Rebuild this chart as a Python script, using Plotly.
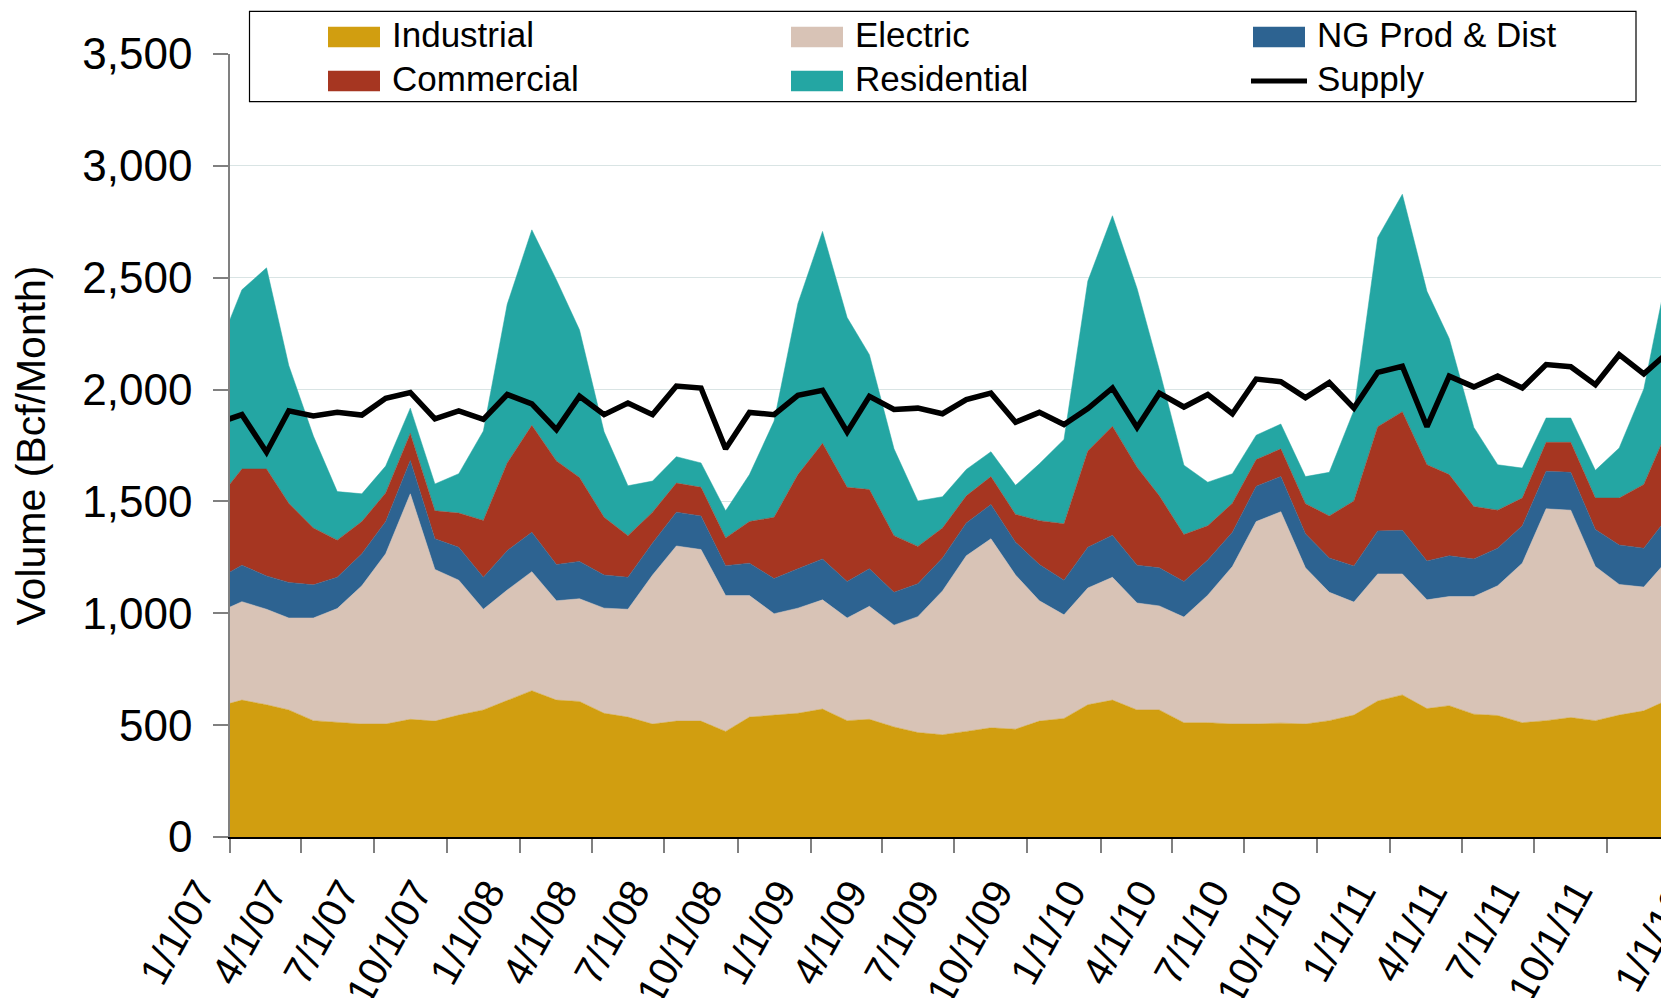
import datetime as dt
import pandas as pd
import plotly.graph_objects as go

# ---------------- data (Bcf / month), Dec-2006 .. Dec-2011, values at mid-month ----------------
months = pd.date_range("2006-12-01", "2011-12-01", freq="MS") + pd.Timedelta(days=15)

industrial = [582,
              612, 591, 568, 520, 511, 505, 505, 526, 518, 545, 568, 610,
              654, 612, 606, 553, 536, 505, 518, 518, 472, 536, 545, 553,
              572, 520, 526, 492, 467, 457, 472, 488, 482, 518, 530, 591,
              612, 568, 568, 511, 511, 505, 505, 509, 505, 520, 545, 608,
              635, 574, 587, 549, 543, 511, 520, 534, 520, 545, 564, 612]
electric = [420,
            440, 427, 411, 459, 510, 618, 761, 1008, 678, 603, 450, 494,
            532, 444, 459, 470, 482, 666, 783, 767, 607, 543, 453, 470,
            488, 459, 505, 455, 518, 643, 785, 845, 689, 538, 463, 522,
            549, 478, 465, 472, 570, 704, 905, 945, 698, 574, 505, 568,
            541, 486, 488, 526, 580, 713, 947, 927, 689, 584, 553, 626]
ng_prod_dist = [151,
                163, 149, 159, 148, 140, 143, 144, 149, 137, 147, 143, 176,
                176, 162, 167, 148, 143, 143, 151, 150, 134, 145, 157, 176,
                183, 163, 168, 147, 147, 147, 147, 153, 147, 162, 155, 182,
                188, 169, 170, 159, 157, 153, 158, 157, 153, 153, 161, 192,
                195, 174, 182, 168, 168, 167, 168, 169, 166, 176, 174, 191]
commercial = [354,
              430, 478, 354, 254, 166, 144, 128, 121, 125, 153, 254, 392,
              478, 463, 375, 258, 186, 138, 130, 128, 124, 186, 274, 421,
              517, 421, 354, 253, 167, 134, 121, 125, 124, 196, 252, 430,
              487, 438, 322, 210, 153, 130, 119, 124, 134, 188, 291, 466,
              530, 430, 363, 234, 170, 124, 129, 134, 140, 210, 285, 392]
residential = [665,
               801, 899, 616, 411, 217, 124, 120, 113, 120, 176, 400, 709,
               874, 809, 660, 382, 223, 139, 118, 109, 121, 210, 430, 765,
               947, 759, 603, 388, 203, 140, 118, 111, 130, 254, 377, 760,
               941, 799, 564, 310, 195, 132, 109, 111, 121, 195, 405, 846,
               972, 775, 608, 354, 203, 134, 109, 109, 124, 224, 427, 708]
supply = [1850,
          1888, 1720, 1905, 1882, 1898, 1886, 1961, 1987, 1869, 1905, 1867, 1978,
          1936, 1821, 1970, 1888, 1940, 1888, 2016, 2007, 1735, 1898, 1888, 1974,
          1997, 1811, 1970, 1911, 1917, 1892, 1955, 1984, 1854, 1898, 1844, 1915,
          2007, 1831, 1984, 1922, 1978, 1892, 2047, 2035, 1964, 2031, 1917, 2077,
          2104, 1834, 2060, 2012, 2060, 2007, 2112, 2102, 2022, 2156, 2070, 2165]

tick_labels = ["1/1/07", "4/1/07", "7/1/07", "10/1/07",
               "1/1/08", "4/1/08", "7/1/08", "10/1/08",
               "1/1/09", "4/1/09", "7/1/09", "10/1/09",
               "1/1/10", "4/1/10", "7/1/10", "10/1/10",
               "1/1/11", "4/1/11", "7/1/11", "10/1/11",
               "1/1/12"]

series_names = ["Industrial", "Electric", "NG Prod & Dist", "Commercial", "Residential"]
series_values = [industrial, electric, ng_prod_dist, commercial, residential]
series_colors = ["#D19E10", "#D8C3B6", "#2D6391", "#A63621", "#24A6A3"]

# ---------------- layout geometry (page body has an 8px margin) ----------------
OX, OY = 8, 8
W, H = 1661, 990
ML, MR, MT = 222, 0, 46.3
MB = H - 829.3
PW, PH = W - ML - MR, H - MT - MB
FONT = "Arial, Liberation Sans, sans-serif"
TICK_ANGLE = -61
TICK_FONT = 40

x_start = pd.Timestamp("2007-01-01")
x_end = pd.Timestamp("2011-12-17 17:00")

def px_x(px):  # reference-page pixel -> paper x
    return (px - OX - ML) / PW

def px_y(py):  # reference-page pixel -> paper y
    return (H - MB - (py - OY)) / PH

tick_dates = [dt.datetime.strptime(t, "%m/%d/%y") for t in tick_labels]
in_range = [(d, t) for d, t in zip(tick_dates, tick_labels) if pd.Timestamp(d) <= x_end]
out_range = [(d, t) for d, t in zip(tick_dates, tick_labels) if pd.Timestamp(d) > x_end]

fig = go.Figure()
for name, vals, color in zip(series_names, series_values, series_colors):
    fig.add_trace(go.Scatter(
        x=months, y=vals, name=name, mode="lines", stackgroup="use",
        line=dict(width=0.5, color=color), fillcolor=color, showlegend=False,
    ))
fig.add_trace(go.Scatter(
    x=months, y=supply, name="Supply", mode="lines",
    line=dict(color="black", width=5.5), showlegend=False,
))

# ---------------- legend (boxed key) ----------------
shapes = [dict(type="rect", xref="paper", yref="paper",
               x0=px_x(249.5), x1=px_x(1636), y0=px_y(102), y1=px_y(11.7),
               fillcolor="white", line=dict(color="black", width=1.2), layer="above")]
annotations = []
col_x = [328, 791, 1253]
row_y = [(27, 47.5), (71, 91.5)]
legend_items = [("Industrial", series_colors[0], 0, 0), ("Electric", series_colors[1], 1, 0),
                ("NG Prod & Dist", series_colors[2], 2, 0), ("Commercial", series_colors[3], 0, 1),
                ("Residential", series_colors[4], 1, 1), ("Supply", "black", 2, 1)]
for name, color, c, r in legend_items:
    x0 = col_x[c]
    y0, y1 = row_y[r]
    if name == "Supply":
        shapes.append(dict(type="line", xref="paper", yref="paper",
                           x0=px_x(x0 - 2), x1=px_x(x0 + 54), y0=px_y((y0 + y1) / 2), y1=px_y((y0 + y1) / 2),
                           line=dict(color="black", width=5), layer="above"))
    else:
        shapes.append(dict(type="rect", xref="paper", yref="paper",
                           x0=px_x(x0), x1=px_x(x0 + 52), y0=px_y(y1), y1=px_y(y0),
                           fillcolor=color, line=dict(width=0), layer="above"))
    annotations.append(dict(text=name, xref="paper", yref="paper", x=px_x(x0 + 62), y=px_y((y0 + y1) / 2 - 2),
                            xanchor="left", yanchor="middle", showarrow=False,
                            font=dict(family=FONT, size=35, color="black")))

# tick label that falls just beyond the right edge of the plotting area
span = (x_end - x_start).total_seconds()
for d, t in out_range:
    frac = (pd.Timestamp(d) - x_start).total_seconds() / span
    annotations.append(dict(text=t, xref="paper", yref="paper", x=frac + 19.7 / PW, y=px_y(878),
                            xanchor="right", yanchor="top", textangle=TICK_ANGLE, showarrow=False,
                            font=dict(family=FONT, size=TICK_FONT, color="black")))

fig.update_layout(
    width=W, height=H,
    margin=dict(l=ML, r=MR, t=MT, b=MB, autoexpand=False),
    paper_bgcolor="white", plot_bgcolor="white",
    font=dict(family=FONT, color="black"),
    shapes=shapes, annotations=annotations,
    showlegend=False,
)
fig.update_xaxes(
    type="date", range=[x_start, x_end], automargin=False,
    tickvals=[d for d, _ in in_range], ticktext=[t for _, t in in_range],
    tickangle=TICK_ANGLE, tickfont=dict(family=FONT, size=TICK_FONT, color="black"),
    ticks="outside", ticklen=14, tickwidth=1.5, tickcolor="#808080",
    showline=True, linecolor="black", linewidth=1.5,
    showgrid=False, zeroline=False, ticklabelstandoff=0, ticklabelshift=-31,
)
fig.update_yaxes(
    range=[0, 3500], dtick=500, tick0=0, tickformat=",", automargin=False,
    tickfont=dict(family=FONT, size=44, color="black"),
    ticks="outside", ticklen=15, tickwidth=1.5, tickcolor="#808080",
    showline=True, linecolor="#808080", linewidth=1.5,
    showgrid=True, gridcolor="#D9E4E4", gridwidth=1, zeroline=False,
    ticklabelstandoff=12,
    title=dict(text="Volume (Bcf/Month)", font=dict(family=FONT, size=41, color="black"), standoff=26),
)

fig.write_html("out.html")
